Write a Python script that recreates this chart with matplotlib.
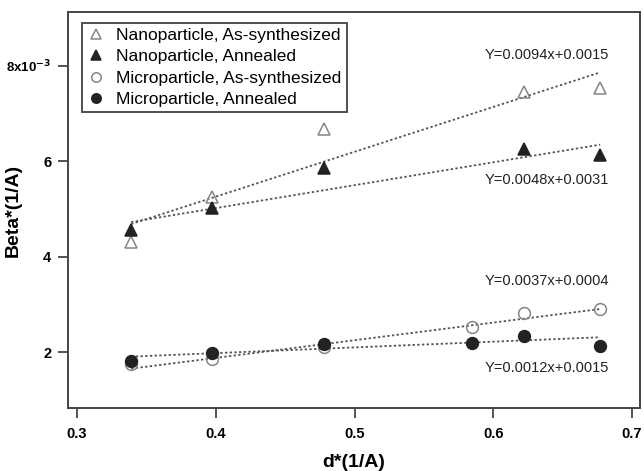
import numpy as np
import matplotlib.pyplot as plt

plt.rcParams['font.family'] = ['Liberation Sans', 'DejaVu Sans']

# d* values (1/A)
x_nano = [0.339, 0.397, 0.478, 0.622, 0.677]
x_micro = [0.339, 0.397, 0.478, 0.585, 0.622, 0.677]

# Beta* values, in units of 1e-3 (1/A)
nano_as = [4.31, 5.26, 6.68, 7.46, 7.54]
nano_ann = [4.56, 5.03, 5.86, 6.26, 6.14]
micro_as = [1.75, 1.86, 2.11, 2.53, 2.82, 2.91]
micro_ann = [1.82, 1.99, 2.17, 2.20, 2.34, 2.13]

# linear fits as printed on the chart (slope, intercept)
fit_labels = ["Y=0.0094x+0.0015", "Y=0.0048x+0.0031",
              "Y=0.0037x+0.0004", "Y=0.0012x+0.0015"]
fit_slope = [0.0094, 0.0048, 0.0037, 0.0012]
fit_icpt = [0.0015, 0.0031, 0.0004, 0.0015]
label_y = [8.23, 5.61, 3.50, 1.67]

fig = plt.figure(figsize=(6.44, 4.71), dpi=100)
ax = fig.add_axes([0.1056, 0.1338, 0.8883, 0.8407])

gray = '#858585'
dark = '#222222'
line_c = '#555555'

series = [
    (x_nano, nano_as, '^', 'none', gray, 'Nanoparticle, As-synthesized'),
    (x_nano, nano_ann, '^', dark, dark, 'Nanoparticle, Annealed'),
    (x_micro, micro_as, 'o', 'none', gray, 'Microparticle, As-synthesized'),
    (x_micro, micro_ann, 'o', dark, dark, 'Microparticle, Annealed'),
]

for i, (xs, ys, mk, fc, ec, lab) in enumerate(series):
    xs = np.array(xs)
    xl = np.array([xs.min(), xs.max()])
    yl = (fit_slope[i] * xl + fit_icpt[i]) * 1e3
    ax.plot(xl, yl, linestyle=(0, (1.3, 1.3)), color=line_c, lw=1.3, zorder=1)
    ax.plot(xs, ys, linestyle='none', marker=mk, markersize=8.5,
            markerfacecolor=fc, markeredgecolor=ec, markeredgewidth=1.1,
            label=lab, zorder=3)
    ax.text(0.594, label_y[i], fit_labels[i], fontsize=10.5, color='#222222',
            va='center', ha='left')

ax.set_xlim(0.2935, 0.7058)
ax.set_ylim(0.83, 9.13)
ax.set_xticks([0.3, 0.4, 0.5, 0.6, 0.7])
ax.set_xticklabels(['0.3', '0.4', '0.5', '0.6', '0.7'])
ax.set_yticks([2, 4, 6, 8])
ax.set_yticklabels(['2', '4', '6', r'8x10$^{\mathbf{-3}}$'])
for lbl in ax.get_xticklabels() + ax.get_yticklabels():
    lbl.set_fontweight('bold')
    lbl.set_fontsize(10.5)
ax.get_yticklabels()[-1].set_fontsize(9.5)
ax.tick_params(direction='out', length=7, width=1.3, color='#444444')
ax.tick_params(axis='x', pad=7)
ax.tick_params(axis='y', pad=5)

for sp in ax.spines.values():
    sp.set_color('#444444')
    sp.set_linewidth(1.4)

ax.set_xlabel('d*(1/A)', fontsize=14, fontweight='bold', labelpad=9)
ax.set_ylabel('Beta*(1/A)', fontsize=14, fontweight='bold')
ax.yaxis.set_label_coords(-0.08, 0.5)

leg = ax.legend(loc='upper left', bbox_to_anchor=(0.024, 0.973), fontsize=12.5,
                frameon=True, fancybox=False, handlelength=1.0, handletextpad=0.7,
                borderpad=0.3, labelspacing=0.36, borderaxespad=0, markerscale=0.8)
leg.get_frame().set_edgecolor('#222222')
leg.get_frame().set_linewidth(1.4)

fig.savefig('out.png', dpi=100)
